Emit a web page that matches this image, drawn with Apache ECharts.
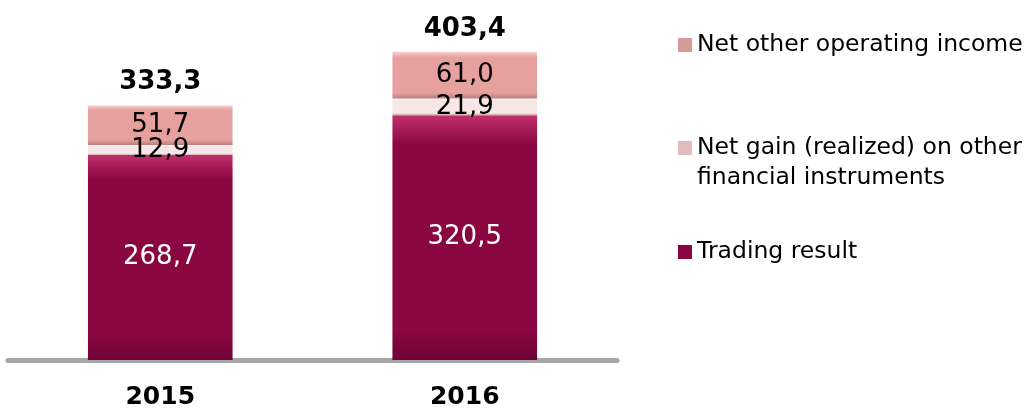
<!DOCTYPE html>
<html>
<head>
<meta charset="utf-8">
<script src="https://cdn.jsdelivr.net/npm/echarts@6/dist/echarts.min.js"></script>
<style>
  html, body { margin: 0; padding: 0; background: #fff; }
  #chart { width: 1030px; height: 410px; }
</style>
</head>
<body>
<div id="chart"></div>
<script>
const years = ['2015', '2016']
const tradingResult = [268.7, 320.5]
const netGain = [12.9, 21.9]
const netOther = [51.7, 61.0]
const totals = [333.3, 403.4]

const seriesNames = [
  'Trading result',
  'Net gain (realized) on other\nfinancial instruments',
  'Net other operating income'
]

const fontFamily = 'DejaVu Sans, Verdana, sans-serif'
const fmt = v => v.toFixed(1).replace('.', ',')

// vertical gradient to mimic the bevelled look
function bevel(top, mid, bottom) {
  return new echarts.graphic.LinearGradient(0, 0, 0, 1, [
    { offset: 0, color: top },
    { offset: 0.12, color: mid },
    { offset: 0.88, color: mid },
    { offset: 1, color: bottom }
  ])
}

const chart = echarts.init(document.getElementById('chart'))

const valueLabel = color => ({
  show: true,
  position: 'inside',
  color: color,
  fontFamily: fontFamily,
  fontSize: 26,
  formatter: p => fmt(p.value)
})

const legendBase = {
  orient: 'vertical',
  left: 673,
  icon: 'rect',
  itemWidth: 14,
  itemHeight: 14,
  itemGap: 10,
  textStyle: { fontFamily: fontFamily, fontSize: 23.5, color: '#000', lineHeight: 30 }
}

const option = {
  animation: false,
  grid: { left: 8, right: 413, top: 30, bottom: 49 },
  legend: [
    Object.assign({}, legendBase, {
      top: 25,
      data: [{ name: seriesNames[2], itemStyle: { color: '#d69a98' } }]
    }),
    // two-line item: icon path padded below so the square sits on the first line
    Object.assign({}, legendBase, {
      top: 128,
      itemHeight: 44,
      data: [{
        name: seriesNames[1],
        icon: 'path://M0,0H14V14H0Z M0,44H14',
        itemStyle: { color: '#e2bcbc' }
      }]
    }),
    Object.assign({}, legendBase, {
      top: 232,
      data: [{ name: seriesNames[0], itemStyle: { color: '#8a0640' } }]
    })
  ],
  xAxis: {
    type: 'category',
    data: years,
    offset: 3,
    axisLine: { lineStyle: { color: '#a6a6a6', width: 5 } },
    axisTick: { show: false },
    axisLabel: {
      margin: 22,
      fontFamily: fontFamily,
      fontSize: 25,
      fontWeight: 'bold',
      color: '#000'
    }
  },
  yAxis: {
    type: 'value',
    min: 0,
    max: 432,
    show: false,
    splitLine: { show: false }
  },
  series: [
    {
      name: seriesNames[0],
      type: 'bar',
      stack: 'total',
      barWidth: '47.5%',
      data: tradingResult,
      itemStyle: { color: bevel('#c2306e', '#8a0640', '#6e0433') },
      label: valueLabel('#fff')
    },
    {
      name: seriesNames[1],
      type: 'bar',
      stack: 'total',
      data: netGain,
      itemStyle: { color: bevel('#ffffff', '#f7e6e6', '#c9a3a3') },
      label: valueLabel('#000')
    },
    {
      name: seriesNames[2],
      type: 'bar',
      stack: 'total',
      data: netOther,
      itemStyle: { color: bevel('#f5cfcd', '#e6a19f', '#b87e7c') },
      label: valueLabel('#000')
    },
    {
      name: 'total',
      type: 'bar',
      stack: 'total',
      data: years.map(() => 0),
      itemStyle: { color: 'transparent' },
      label: {
        show: true,
        position: 'top',
        distance: 10,
        color: '#000',
        fontFamily: fontFamily,
        fontSize: 26,
        fontWeight: 'bold',
        formatter: p => fmt(totals[p.dataIndex])
      }
    }
  ]
}

chart.setOption(option)
</script>
</body>
</html>
